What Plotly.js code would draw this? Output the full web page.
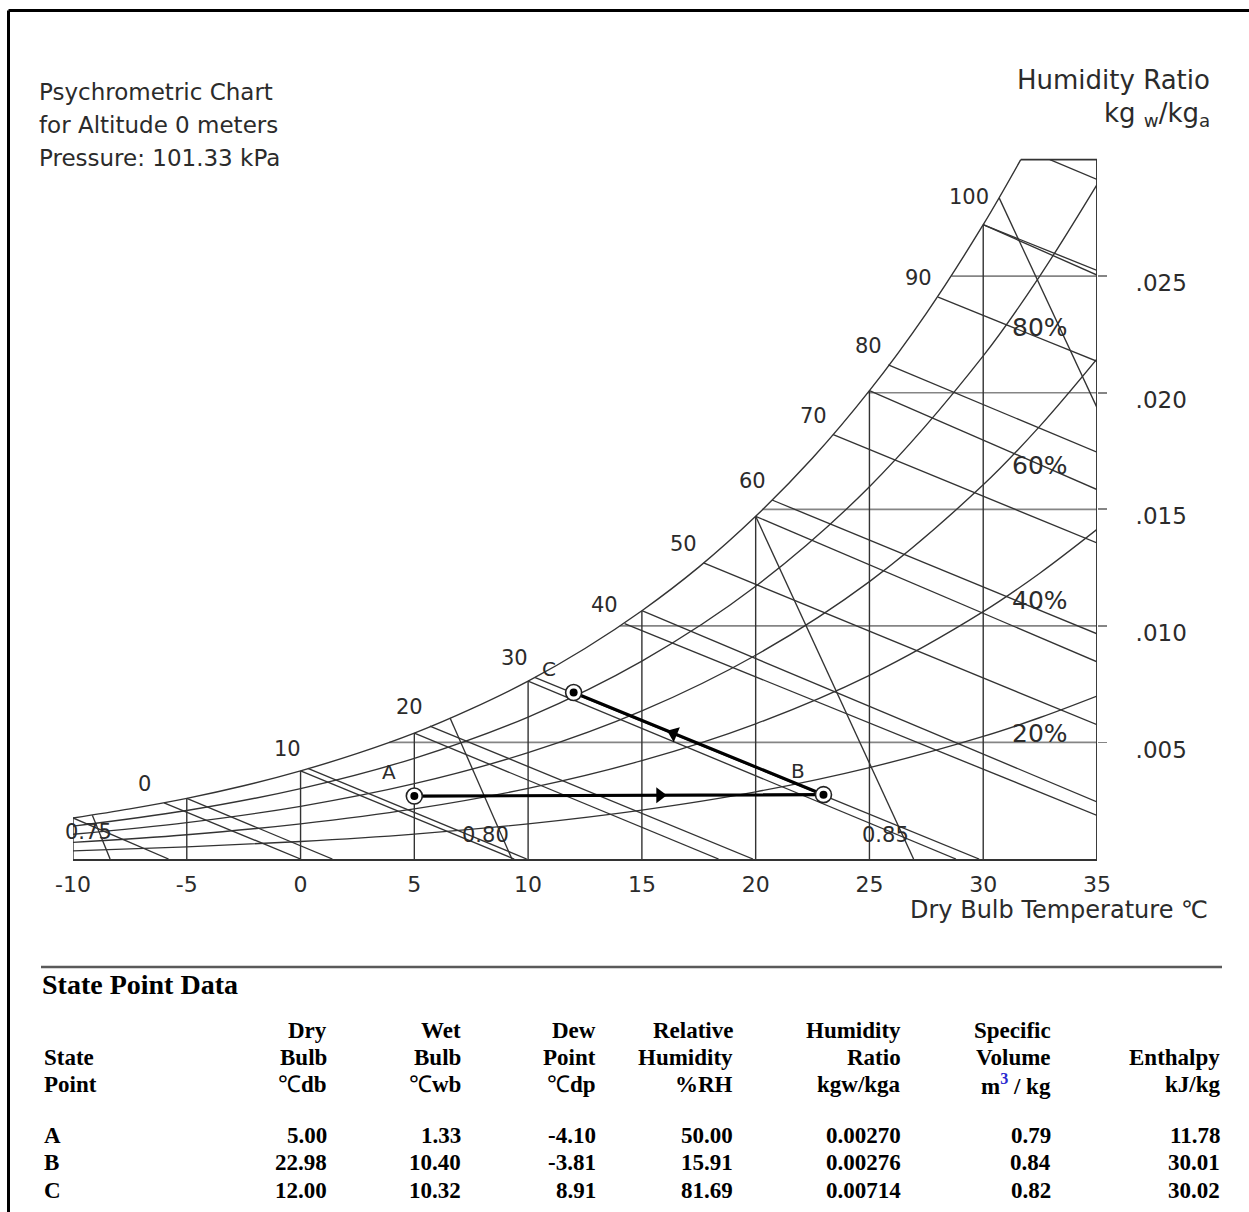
<!DOCTYPE html>
<html>
<head>
<meta charset="utf-8">
<script src="https://cdn.plot.ly/plotly-3.0.1.min.js"></script>
<style>
  html, body { margin: 0; padding: 0; background: #ffffff; }
  #chart { width: 1249px; height: 1212px; }
</style>
</head>
<body>
<div id="chart"></div>
<script>
// ---------------- chart values ----------------
const dryBulbTicks = [-10, -5, 0, 5, 10, 15, 20, 25, 30, 35];
const dryBulbTickText = ['-10', '-5', '0', '5', '10', '15', '20', '25', '30', '35'];
const humidityTicks = [0.005, 0.010, 0.015, 0.020, 0.025];
const humidityTickText = ['.005', '.010', '.015', '.020', '.025'];

// saturation curve (100 % RH), dry bulb °C / humidity ratio kg/kg
const satTemp = [-10, -7.5, -5, -2.5, 0, 2.5, 5, 7.5, 10, 12.5, 15, 17.5, 20, 22.5, 25, 27.5, 30, 31.65];
const satHum = [0.00176, 0.00215, 0.00260, 0.00314, 0.00378, 0.00453, 0.00540, 0.00644, 0.00763, 0.00903,
                0.01065, 0.01252, 0.01470, 0.01720, 0.02009, 0.02341, 0.02721, 0.03000];

// relative humidity curves
const rhLevels = [80, 60, 40, 20];
const rhTemp = [-10, -5, 0, 5, 10, 15, 20, 25, 30, 32.5, 35];
const rhHum80 = [0.00141, 0.00208, 0.00302, 0.00432, 0.00609, 0.00849, 0.01170, 0.01597, 0.02158, 0.02503, 0.02893];
const rhHum60 = [0.00106, 0.00156, 0.00226, 0.00323, 0.00456, 0.00635, 0.00874, 0.01190, 0.01605, 0.01858, 0.02145];
const rhHum40 = [0.00071, 0.00104, 0.00151, 0.00215, 0.00303, 0.00422, 0.00580, 0.00788, 0.01061, 0.01227, 0.01414];
const rhHum20 = [0.00035, 0.00052, 0.00075, 0.00107, 0.00151, 0.00210, 0.00288, 0.00392, 0.00526, 0.00607, 0.00699];
const rhHum = [rhHum80, rhHum60, rhHum40, rhHum20];

// enthalpy lines (kJ/kg): start on the saturation curve, end on the bottom or right edge
const enthalpyValues = [0, 10, 20, 30, 40, 50, 60, 70, 80, 90, 100, 110];
const enthalpyStartTemp = [-6.0, 0.32, 5.68, 10.29, 14.24, 17.71, 20.72, 23.41, 25.83, 28.02, 30.02, 32.93];
const enthalpyStartHum = [0.00241, 0.00389, 0.00570, 0.00779, 0.01010, 0.01270, 0.01540, 0.01820, 0.02120, 0.02410, 0.02720, 0.03000];
const enthalpyEndTemp = [0.0, 9.94, 19.88, 29.82, 35, 35, 35, 35, 35, 35, 35, 35];
const enthalpyEndHum = [0, 0, 0, 0, 0.00187, 0.00576, 0.00966, 0.01356, 0.01745, 0.02135, 0.02525, 0.02915];
const enthalpyLabels = ['0', '10', '20', '30', '40', '50', '60', '70', '80', '90', '100'];

// wet bulb lines (°C)
const wetBulbValues = [-10, -5, 0, 5, 10, 15, 20, 25, 30];
const wetBulbStartHum = [0.00176, 0.00260, 0.00378, 0.00540, 0.00763, 0.01065, 0.01470, 0.02009, 0.02721];
const wetBulbEndTemp = [-5.8, 1.4, 9.39, 18.37, 28.80, 35, 35, 35, 35];
const wetBulbEndHum = [0, 0, 0, 0, 0, 0.00245, 0.00846, 0.01585, 0.02505];

// specific volume lines (m3/kg)
const volumeValues = [0.75, 0.80, 0.85, 0.90];
const volumeStartTemp = [-9.15, 6.57, 20.0, 30.7];
const volumeStartHum = [0.00188, 0.00605, 0.01470, 0.02836];
const volumeEndTemp = [-8.37, 9.29, 26.94, 35];
const volumeEndHum = [0, 0, 0, 0.01936];
const volumeLabels = ['0.75', '0.80', '0.85'];

// dry bulb lines, from the bottom edge up to saturation
const dryBulbLineTemp = [-10, -5, 0, 5, 10, 15, 20, 25, 30, 35];
const dryBulbLineTop = [0.00176, 0.00260, 0.00378, 0.00540, 0.00763, 0.01065, 0.01470, 0.02009, 0.02721, 0.03000];

// humidity ratio lines, from saturation to the right edge
const humidityLineValues = [0.005, 0.010, 0.015, 0.020, 0.025];
const humidityLineStartTemp = [3.9, 14.03, 20.31, 24.94, 28.6];
const topLineStartTemp = 31.65;
const topLineHum = 0.030;

// state point data
const statePoints = ['A', 'B', 'C'];
const dryBulb = [5.00, 22.98, 12.00];
const wetBulb = [1.33, 10.40, 10.32];
const dewPoint = [-4.10, -3.81, 8.91];
const relHumidity = [50.00, 15.91, 81.69];
const humidityRatio = [0.00270, 0.00276, 0.00714];
const specificVolume = [0.79, 0.84, 0.82];
const enthalpy = [11.78, 30.01, 30.02];

// ---------------- geometry ----------------
const W = 1249, H = 1212;
const M = { l: 73, r: 152, t: 148, b: 353, pad: 0 };
const plotW = W - M.l - M.r;
const plotH = H - M.t - M.b;
const xRange = [-10, 35];
const yRange = [0, 0.0305];
const pxPerX = plotW / (xRange[1] - xRange[0]);
const pxPerY = plotH / (yRange[1] - yRange[0]);
// page pixels -> paper fractions (for text placed around the plot)
const paperX = px => (px - M.l) / plotW;
const paperY = py => (H - M.b - py) / plotH;
// page pixels -> axis units (for labels placed inside the plot)
const dataX = px => xRange[0] + (px - M.l) / pxPerX;
const dataY = py => (H - M.b - py) / pxPerY;

const LINE = '#333333';
const TEXT = '#2b2b2b';
const SANS = 'DejaVu Sans, Liberation Sans, sans-serif';
const SERIF = 'Liberation Serif, Times New Roman, serif';

function segments(x0, y0, x1, y1) {
  const xs = [], ys = [];
  for (let i = 0; i < x0.length; i++) {
    xs.push(x0[i], x1[i], null);
    ys.push(y0[i], y1[i], null);
  }
  return { x: xs, y: ys };
}
const fill = (n, v) => new Array(n).fill(v);

function lineTrace(seg, color, width) {
  return { type: 'scatter', mode: 'lines', x: seg.x, y: seg.y, hoverinfo: 'skip',
           line: { color: color, width: width }, cliponaxis: false };
}

const traces = [];

// humidity ratio lines
traces.push(lineTrace(segments(humidityLineStartTemp, humidityLineValues,
  fill(humidityLineValues.length, 35), humidityLineValues), '#858585', 1.7));

// top edge and right edge of the chart
traces.push(lineTrace({ x: [topLineStartTemp, 35, 35], y: [topLineHum, topLineHum, 0] }, LINE, 1.7));

// dry bulb lines
traces.push(lineTrace(segments(dryBulbLineTemp, fill(dryBulbLineTemp.length, 0),
  dryBulbLineTemp, dryBulbLineTop), LINE, 1.4));

// enthalpy lines
traces.push(lineTrace(segments(enthalpyStartTemp, enthalpyStartHum, enthalpyEndTemp, enthalpyEndHum), LINE, 1.35));

// wet bulb lines
traces.push(lineTrace(segments(wetBulbValues, wetBulbStartHum, wetBulbEndTemp, wetBulbEndHum), LINE, 1.35));

// specific volume lines
traces.push(lineTrace(segments(volumeStartTemp, volumeStartHum, volumeEndTemp, volumeEndHum), LINE, 1.35));

// relative humidity curves
rhLevels.forEach((lvl, i) => {
  traces.push({ type: 'scatter', mode: 'lines', x: rhTemp, y: rhHum[i], hoverinfo: 'skip', cliponaxis: false,
                line: { color: LINE, width: 1.35, shape: 'spline', smoothing: 1 } });
});

// saturation curve
traces.push({ type: 'scatter', mode: 'lines', x: satTemp, y: satHum, hoverinfo: 'skip', cliponaxis: false,
              line: { color: LINE, width: 1.4, shape: 'spline', smoothing: 1 } });

// process A -> B -> C
traces.push({ type: 'scatter', mode: 'lines', x: dryBulb, y: humidityRatio, hoverinfo: 'skip',
              line: { color: '#000000', width: 3.2 }, cliponaxis: false });

// direction arrows on the process lines
const arrowFraction = 0.6;
const arrowX = [], arrowY = [], arrowAngle = [];
for (let i = 0; i < dryBulb.length - 1; i++) {
  const x0 = dryBulb[i], y0 = humidityRatio[i], x1 = dryBulb[i + 1], y1 = humidityRatio[i + 1];
  arrowX.push(x0 + arrowFraction * (x1 - x0));
  arrowY.push(y0 + arrowFraction * (y1 - y0));
  arrowAngle.push(Math.atan2((x1 - x0) * pxPerX, (y1 - y0) * pxPerY) * 180 / Math.PI);
}
traces.push({ type: 'scatter', mode: 'markers', x: arrowX, y: arrowY, hoverinfo: 'skip', cliponaxis: false,
              marker: { symbol: 'triangle-up', size: 14, color: '#000000', angle: arrowAngle,
                        line: { width: 0 } } });

// state point markers: ring with a center dot
traces.push({ type: 'scatter', mode: 'markers', x: dryBulb, y: humidityRatio, hoverinfo: 'skip', cliponaxis: false,
              marker: { symbol: 'circle', size: 16, color: '#ffffff', line: { color: '#222222', width: 1.6 } } });
traces.push({ type: 'scatter', mode: 'markers', x: dryBulb, y: humidityRatio, hoverinfo: 'skip', cliponaxis: false,
              marker: { symbol: 'circle', size: 8, color: '#000000', line: { width: 0 } } });

// ---------------- annotations ----------------
const ann = [];
function paperText(text, px, py, size, opts) {
  ann.push(Object.assign({ xref: 'paper', yref: 'paper', x: paperX(px), y: paperY(py), text: text,
    showarrow: false, xanchor: 'left', yanchor: 'middle', font: { family: SANS, size: size, color: TEXT } }, opts || {}));
}

// heading at top left
paperText('Psychrometric Chart', 37, 92, 23);
paperText('for Altitude 0 meters', 37, 125, 23);
paperText('Pressure: 101.33 kPa', 37, 158, 23);

// axis captions
paperText('Humidity Ratio', 1212, 80, 26, { xanchor: 'right' });
paperText('kg <sub>w</sub>/kg<sub>a</sub>', 1212, 115, 26, { xanchor: 'right' });
paperText('Dry Bulb Temperature ℃', 1210, 910, 24, { xanchor: 'right' });

// enthalpy values along the saturation curve
enthalpyLabels.forEach((lab, i) => {
  const wide = lab.length > 2;
  ann.push({ x: enthalpyStartTemp[i], y: enthalpyStartHum[i], text: lab, showarrow: false,
             xanchor: 'center', yanchor: 'middle', xshift: wide ? -15 : -20, yshift: wide ? 28 : 19,
             font: { family: SANS, size: 21, color: TEXT } });
});

// relative humidity labels
const rhLabelPix = [327, 465, 600, 733];
rhLevels.forEach((lvl, i) => {
  ann.push({ x: dataX(1040), y: dataY(rhLabelPix[i]), text: lvl + '%', showarrow: false,
             xanchor: 'center', yanchor: 'middle', font: { family: SANS, size: 25, color: TEXT } });
});

// specific volume labels
const volumeLabelPix = [[88, 832], [485, 835], [885, 835]];
volumeLabels.forEach((lab, i) => {
  ann.push({ x: dataX(volumeLabelPix[i][0]), y: dataY(volumeLabelPix[i][1]), text: lab, showarrow: false,
             xanchor: 'center', yanchor: 'middle', font: { family: SANS, size: 21, color: TEXT } });
});

// state point letters
statePoints.forEach((p, i) => {
  ann.push({ x: dryBulb[i], y: humidityRatio[i], text: p, showarrow: false, xanchor: 'center', yanchor: 'middle',
             xshift: -25, yshift: 24, font: { family: SANS, size: 20, color: TEXT } });
});

// ---------------- state point table ----------------
function tableText(text, px, py, anchor, size) {
  ann.push({ xref: 'paper', yref: 'paper', x: paperX(px), y: paperY(py), text: text, showarrow: false,
             xanchor: anchor, yanchor: 'middle', font: { family: SERIF, size: size || 23, color: '#000000' } });
}
tableText('<b>State Point Data</b>', 40, 984, 'left', 28);

const headRows = [1030, 1057, 1084];
const dataRows = [1135, 1162, 1190];
const columns = [
  { right: 329, head: ['<b>Dry</b>', '<b>Bulb</b>', '℃<b>db</b>'], values: dryBulb, digits: 2 },
  { right: 463, head: ['<b>Wet</b>', '<b>Bulb</b>', '℃<b>wb</b>'], values: wetBulb, digits: 2 },
  { right: 598, head: ['<b>Dew</b>', '<b>Point</b>', '℃<b>dp</b>'], values: dewPoint, digits: 2 },
  { right: 735, head: ['<b>Relative</b>', '<b>Humidity</b>', '<b>%RH</b>'], values: relHumidity, digits: 2 },
  { right: 903, head: ['<b>Humidity</b>', '<b>Ratio</b>', '<b>kgw/kga</b>'], values: humidityRatio, digits: 5 },
  { right: 1053, head: ['<b>Specific</b>', '<b>Volume</b>',
      '<b>m<sup><span style="color:#2a2ad0">3</span></sup> / kg</b>'], values: specificVolume, digits: 2 },
  { right: 1222, head: [null, '<b>Enthalpy</b>', '<b>kJ/kg</b>'], values: enthalpy, digits: 2 }
];
tableText('<b>State</b>', 42, headRows[1], 'left');
tableText('<b>Point</b>', 42, headRows[2], 'left');
columns.forEach(col => {
  col.head.forEach((h, r) => { if (h) tableText(h, col.right, headRows[r], 'right'); });
  col.values.forEach((v, r) => tableText('<b>' + v.toFixed(col.digits) + '</b>', col.right, dataRows[r], 'right'));
});
statePoints.forEach((p, r) => tableText('<b>' + p + '</b>', 42, dataRows[r], 'left'));

// ---------------- shapes: frame and table rule ----------------
const shapes = [
  { type: 'line', xref: 'paper', yref: 'paper', x0: paperX(8.5), x1: paperX(W + 5), y0: paperY(10.5), y1: paperY(10.5),
    line: { color: '#000000', width: 3 } },
  { type: 'line', xref: 'paper', yref: 'paper', x0: paperX(8.5), x1: paperX(8.5), y0: paperY(10.5), y1: paperY(H + 5),
    line: { color: '#000000', width: 3 } },
  { type: 'line', xref: 'paper', yref: 'paper', x0: paperX(41), x1: paperX(1222), y0: paperY(967), y1: paperY(967),
    line: { color: '#5a5a5a', width: 2.5 } }
];

const layout = {
  width: W, height: H,
  margin: M,
  paper_bgcolor: '#ffffff', plot_bgcolor: '#ffffff',
  showlegend: false,
  font: { family: SANS, color: TEXT },
  xaxis: {
    range: xRange, tickvals: dryBulbTicks, ticktext: dryBulbTickText, ticks: '',
    showgrid: false, zeroline: false, showline: true, linecolor: LINE, linewidth: 1.7,
    tickfont: { family: SANS, size: 22, color: TEXT }, ticklabelstandoff: 5, fixedrange: true
  },
  yaxis: {
    range: yRange, side: 'right', tickvals: humidityTicks, ticktext: humidityTickText,
    ticks: 'outside', ticklen: 9, tickwidth: 1.7, tickcolor: '#858585',
    showgrid: false, zeroline: false, showline: false,
    tickfont: { family: SANS, size: 23, color: TEXT }, ticklabelstandoff: 24, ticklabelshift: 7, fixedrange: true
  },
  annotations: ann,
  shapes: shapes
};

Plotly.newPlot('chart', traces, layout, { displayModeBar: false, staticPlot: true });
</script>
</body>
</html>
